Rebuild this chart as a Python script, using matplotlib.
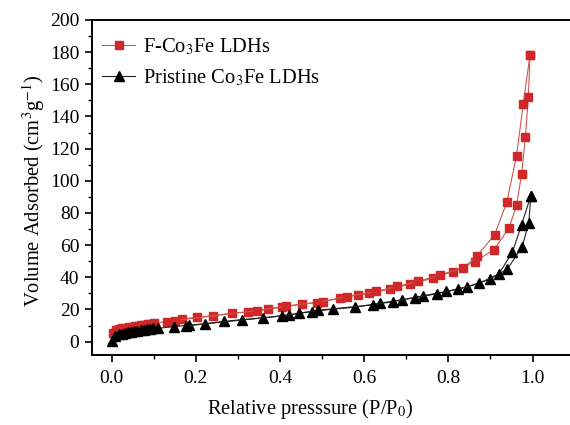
import matplotlib
matplotlib.use('Agg')
import numpy as np
import matplotlib.pyplot as plt
from matplotlib.ticker import MultipleLocator

plt.rcParams['font.family'] = ['Liberation Serif', 'DejaVu Serif']
plt.rcParams['mathtext.fontset'] = 'stix'

# F-Co3Fe LDHs, adsorption branch
f_ads_x = [0.002, 0.010, 0.018, 0.025, 0.033, 0.040, 0.047, 0.055, 0.062, 0.070, 0.077, 0.085, 0.092, 0.100,
           0.132, 0.166, 0.202, 0.241, 0.285, 0.324, 0.372, 0.404, 0.451, 0.503, 0.542, 0.586, 0.612,
           0.661, 0.709, 0.764, 0.811, 0.863, 0.908, 0.944, 0.962, 0.974, 0.983, 0.990, 0.994]
f_ads_y = [5.5, 7.0, 7.8, 8.3, 8.7, 9.1, 9.4, 9.7, 10.0, 10.3, 10.6, 10.9, 11.2, 11.5,
           12.5, 14.0, 15.2, 16.2, 17.7, 18.5, 20.2, 21.4, 23.3, 24.9, 27.0, 29.1, 30.1,
           32.6, 35.8, 39.5, 43.6, 49.8, 57.1, 70.6, 84.8, 104.0, 127.3, 152.3, 178.2]
# F-Co3Fe LDHs, desorption branch
f_des_x = [0.994, 0.978, 0.962, 0.939, 0.910, 0.867, 0.835, 0.780, 0.728, 0.677, 0.628, 0.558, 0.487, 0.414, 0.344, 0.150]
f_des_y = [178.2, 148.0, 115.7, 86.9, 66.5, 53.0, 45.7, 41.6, 37.4, 34.3, 31.2, 28.0, 24.3, 22.2, 19.3, 13.1]

# Pristine Co3Fe LDHs, adsorption branch
p_ads_x = [0.001, 0.008, 0.016, 0.024, 0.031, 0.039, 0.046, 0.054, 0.061, 0.069, 0.076, 0.084, 0.091, 0.099,
           0.111, 0.148, 0.184, 0.222, 0.267, 0.309, 0.360, 0.420, 0.475, 0.526, 0.578, 0.637, 0.689,
           0.740, 0.794, 0.845, 0.899, 0.940, 0.975, 0.991, 0.996]
p_ads_y = [0.5, 3.5, 4.5, 5.0, 5.4, 5.8, 6.1, 6.4, 6.7, 7.0, 7.3, 7.6, 7.9, 8.2,
           8.3, 9.4, 10.2, 11.2, 12.6, 13.7, 14.8, 16.6, 18.7, 20.2, 21.4, 23.9, 26.0,
           28.5, 31.2, 34.1, 38.9, 45.1, 58.8, 73.8, 90.8]
# Pristine Co3Fe LDHs, desorption branch
p_des_x = [0.996, 0.974, 0.952, 0.920, 0.873, 0.823, 0.772, 0.720, 0.669, 0.621, 0.490, 0.446, 0.404, 0.176]
p_des_y = [90.8, 72.7, 55.5, 42.2, 36.2, 32.6, 29.7, 27.4, 24.9, 22.9, 19.5, 17.7, 16.0, 9.8]

fig = plt.figure(figsize=(5.7, 4.25), dpi=100)
ax = fig.add_axes([0.1614, 0.1647, 0.8386, 0.7883])

red = '#d02828'
ax.plot(f_ads_x, f_ads_y, color='#c85a50', lw=0.8, marker='s', ms=5.5, mfc=red, mec=red,
        label='F-Co$_3$Fe LDHs')
ax.plot(f_des_x, f_des_y, color='#c85a50', lw=0.8, marker='s', ms=5.5, mfc=red, mec=red)
ax.plot(p_ads_x, p_ads_y, color='#222222', lw=0.8, marker='^', ms=6.5, mfc='black', mec='black',
        label='Pristine Co$_3$Fe LDHs')
ax.plot(p_des_x, p_des_y, color='#222222', lw=0.8, marker='^', ms=6.5, mfc='black', mec='black')

ax.set_xlim(-0.047, 1.089)
ax.set_ylim(-8.3, 200)
ax.xaxis.set_major_locator(MultipleLocator(0.2))
ax.xaxis.set_minor_locator(MultipleLocator(0.1))
ax.yaxis.set_major_locator(MultipleLocator(20))
ax.yaxis.set_minor_locator(MultipleLocator(10))
ax.xaxis.set_major_formatter(plt.FormatStrFormatter('%.1f'))
ax.tick_params(which='major', direction='out', length=5, width=1.2, labelsize=14, pad=4)
ax.tick_params(axis='x', which='major', pad=5.5)
ax.tick_params(which='minor', direction='out', length=3, width=1.0)
ax.tick_params(top=False, right=False)
ax.spines['right'].set_visible(False)
for s in ['left', 'bottom', 'top']:
    ax.spines[s].set_linewidth(1.4)

ax.set_xlabel('Relative presssure (P/P$_0$)', fontsize=14.8)
ax.xaxis.set_label_coords(0.456, -0.125)
ax.set_ylabel('Volume Adsorbed (cm$^3$g$^{-1}$)', fontsize=14.8)
ax.yaxis.set_label_coords(-0.094, 0.49)

ax.legend(loc='upper left', frameon=False, fontsize=14.8, handlelength=1.6, handletextpad=0.4,
          borderaxespad=0.1, labelspacing=0.5, bbox_to_anchor=(0.0, 0.982))

plt.savefig('out.png', dpi=100)
